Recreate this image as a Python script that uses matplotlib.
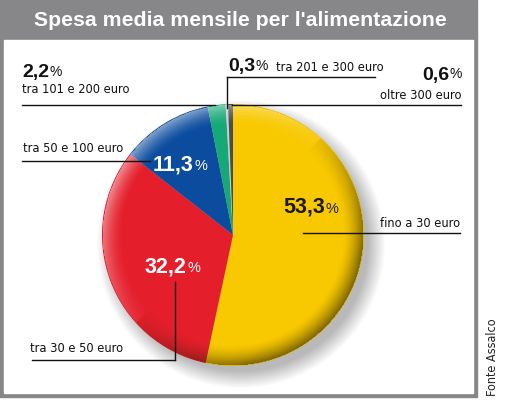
import matplotlib
matplotlib.use("Agg")
import matplotlib.pyplot as plt
from matplotlib.patches import Rectangle, Circle
from matplotlib import font_manager
from matplotlib.font_manager import FontProperties
import numpy as np

# ---- data ----
categories = ["fino a 30 euro", "tra 30 e 50 euro", "tra 50 e 100 euro",
              "tra 101 e 200 euro", "tra 201 e 300 euro", "oltre 300 euro"]
values = [53.3, 32.2, 11.3, 2.2, 0.3, 0.6]
value_labels = ["53,3", "32,2", "11,3", "2,2", "0,3", "0,6"]
colors = ["#F8C800", "#E41E2B", "#0B4C9E", "#17A877", "#C9CDCF", "#4A4C50"]
title = "Spesa media mensile per l'alimentazione"
source = "Fonte Assalco"

# find a condensed font
files = [f.fname for f in font_manager.fontManager.ttflist]
cands = []
for key in ["LiberationSansNarrow-Regular", "DejaVuSansCondensed.ttf",
            "RobotoCondensed-Regular", "OpenSans_Condensed-Regular",
            "OpenSansCondensed", "Condensed-Regular", "Narrow"]:
    for f in files:
        fl = f.lower()
        if key.lower() in fl and "bold" not in fl and "italic" not in fl and "oblique" not in fl:
            cands.append(f)
    if cands:
        break
found = cands[0] if cands else None

def NFP(size):
    if found:
        return FontProperties(fname=found, size=size)
    return FontProperties(family="Liberation Sans", size=size)

W, H = 511, 400
fig = plt.figure(figsize=(W / 100, H / 100), dpi=100)
ax = fig.add_axes([0, 0, 1, 1])

def Y(y):
    return H - y

cx, cy, R = 233, Y(235), 131

# soft shadow
for i in range(18):
    r = R + 13 - i * 1.0
    ax.add_patch(Circle((cx + 8, cy - 9), r, color="#000000", alpha=0.017,
                        lw=0, zorder=1))

wedges, _ = ax.pie(values, colors=colors, startangle=90, counterclock=False,
                   center=(cx, cy), radius=R, frame=False,
                   wedgeprops=dict(linewidth=0, zorder=2))
ax.set_xlim(0, W)
ax.set_ylim(0, H)
ax.set_aspect("equal")
ax.axis("off")

# frame
ax.add_patch(Rectangle((0, Y(397)), 477, 397, color="#878688", zorder=0))
ax.add_patch(Rectangle((4, Y(393)), 469, 353, color="white", zorder=0.5))
ax.text(240, Y(21), title, color="white", fontsize=15.3, fontweight="bold",
        ha="center", va="center", family="Liberation Sans", zorder=5)
ax.text(493, Y(396), source, rotation=90, ha="center", va="bottom",
        fontproperties=NFP(9), color="#222222")

# 3D button shading overlay
n = 300
xs = np.linspace(-1, 1, n)
X, YY = np.meshgrid(xs, xs)
rr = np.sqrt(X ** 2 + YY ** 2)
rim = np.clip((rr - 0.84) / 0.16, 0, 1) ** 1.5
direction = (X + YY) / np.sqrt(2)  # +1 towards bottom-right (rows go down)
dark = rim * np.clip(direction + 0.2, 0, 1)
light = rim * np.clip(-direction + 0.1, 0, 1)
rgba = np.zeros((n, n, 4))
isdark = dark >= light
rgba[..., 0] = np.where(isdark, 0.15, 1.0)
rgba[..., 1] = np.where(isdark, 0.12, 1.0)
rgba[..., 2] = np.where(isdark, 0.0, 1.0)
rgba[..., 3] = np.where(isdark, dark * 0.6, light * 0.5)
rgba[rr > 1] = 0
im = ax.imshow(rgba, extent=(cx - R, cx + R, cy - R, cy + R), origin="upper",
               zorder=3, interpolation="bilinear")
im.set_clip_path(Circle((cx, cy), R, transform=ax.transData))
ax.set_xlim(0, W)
ax.set_ylim(0, H)

BF = "Liberation Sans"

def value_text(x, y, idx, color, size=15.5, psize=10.5):
    t = ax.text(x, Y(y), value_labels[idx], color=color, fontsize=size,
                fontweight="bold", family=BF, ha="left", va="baseline",
                zorder=6)
    ax.annotate("%", xy=(1, 0), xycoords=t, xytext=(0.3, 1.5),
                textcoords="offset points", color=color, fontsize=psize,
                family=BF, va="bottom", ha="left", zorder=6)
    return t

lc = "#111111"
lw = 1.0
tc = "#111111"
LS = 9.2
# 2,2%
value_text(22, 77, 3, tc, size=14, psize=10)
ax.text(22, Y(93), categories[3], fontproperties=NFP(LS), color=tc)
ax.plot([22, 215], [Y(105), Y(105)], color=lc, lw=lw, zorder=4)
# 0,3%
value_text(228, 71, 4, tc, size=14, psize=10)
ax.text(276, Y(71), categories[4], fontproperties=NFP(LS), color=tc)
ax.plot([226.5, 375], [Y(77), Y(77)], color=lc, lw=lw, zorder=4)
ax.plot([226.5, 226.5], [Y(77), Y(108)], color=lc, lw=lw, zorder=4)
# 0,6%
p06 = ax.text(462, Y(79) + 0.5, "%", color=tc, fontsize=10, family=BF,
              ha="right", va="baseline")
ax.annotate(value_labels[5], xy=(0, 0), xycoords=p06, xytext=(-0.3, -1.5),
            textcoords="offset points", color=tc, fontsize=14,
            fontweight="bold", family=BF, ha="right", va="bottom")
ax.text(462, Y(99), categories[5], fontproperties=NFP(LS), color=tc,
        ha="right")
ax.plot([232, 461], [Y(105), Y(105)], color=lc, lw=lw, zorder=4)
# 11,3%
ax.text(23, Y(152), categories[2], fontproperties=NFP(LS), color=tc)
ax.plot([22, 150], [Y(161), Y(161)], color=lc, lw=lw, zorder=4)
value_text(153, 170, 2, "white")
# 53,3%
value_text(283, 213, 0, "#1a1a1a")
ax.text(460, Y(227), categories[0], fontproperties=NFP(LS), color=tc,
        ha="right")
ax.plot([303, 460], [Y(233), Y(233)], color=lc, lw=lw, zorder=4)
# 32,2%
value_text(145, 272, 1, "white")
ax.plot([175, 175], [Y(282), Y(360)], color=lc, lw=lw, zorder=4)
ax.plot([32, 175], [Y(360), Y(360)], color=lc, lw=lw, zorder=4)
ax.text(30, Y(352), categories[1], fontproperties=NFP(LS), color=tc)

fig.savefig("out.png", dpi=100)
